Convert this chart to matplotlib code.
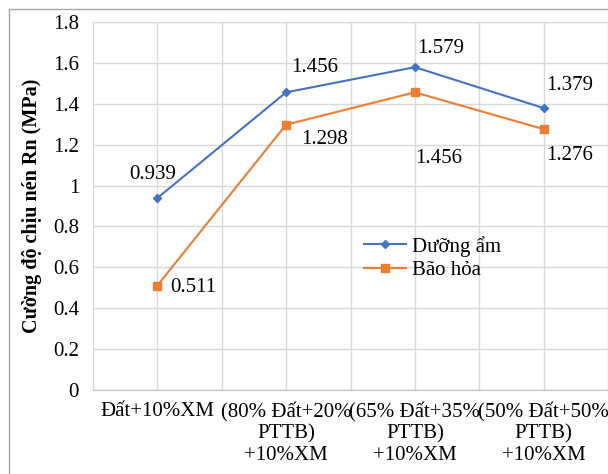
import matplotlib
matplotlib.use("Agg")
import matplotlib.pyplot as plt
from matplotlib.patches import Rectangle

categories = ["Đất+10%XM", "(80% Đất+20%\nPTTB)\n+10%XM",
              "(65% Đất+35%\nPTTB)\n+10%XM", "(50% Đất+50%\nPTTB)\n+10%XM"]
duong_am = [0.939, 1.456, 1.579, 1.379]
bao_hoa = [0.511, 1.298, 1.456, 1.276]
yticks = [0, 0.2, 0.4, 0.6, 0.8, 1, 1.2, 1.4, 1.6, 1.8]
ytick_labels = ["0", "0.2", "0.4", "0.6", "0.8", "1", "1.2", "1.4", "1.6", "1.8"]

# label offsets in pixels (dx, dy)
off_blue = [(-5, 24), (29, 25), (26, 19), (26, 23)]
off_orange = [(36, -2), (38, -15), (24, -66), (26, -26)]

plt.rcParams['font.family'] = ['Liberation Serif', 'DejaVu Serif']

fig = plt.figure(figsize=(6.08, 4.74), dpi=100)
ax = fig.add_axes([93/608, 1-390/474, 1-93/608, 368/474])

x = list(range(len(categories)))
ax.plot(x, duong_am, color='#4472C4', marker='D', markersize=4, lw=1.5, label='Dưỡng ẩm')
ax.plot(x, bao_hoa, color='#ED7D31', marker='s', markersize=6, lw=1.5, label='Bão hỏa')

for i in x:
    ax.annotate(f"{duong_am[i]:.3f}", (i, duong_am[i]), xytext=off_blue[i],
                textcoords='offset pixels', ha='center', va='center', fontsize=15)
    ax.annotate(f"{bao_hoa[i]:.3f}", (i, bao_hoa[i]), xytext=off_orange[i],
                textcoords='offset pixels', ha='center', va='center', fontsize=15)

ax.set_xlim(-0.5, 3.5)
ax.set_ylim(0, 1.8)
ax.set_yticks(yticks)
ax.set_yticklabels(ytick_labels, fontsize=15)
ax.set_xticks(x)
ax.set_xticklabels(categories, fontsize=15, linespacing=1.15)
ax.tick_params(length=0, pad=10)
ax.tick_params(axis='x', pad=9)

for v in [-0.5, 0, 0.5, 1, 1.5, 2, 2.5, 3, 3.5]:
    ax.axvline(v, color='#D9D9D9', lw=1, zorder=0)
for v in yticks:
    ax.axhline(v, color='#D9D9D9', lw=1, zorder=0)
for s in ax.spines.values():
    s.set_color('#D9D9D9')
ax.spines['bottom'].set_color('#BFBFBF')

ax.set_ylabel("Cường độ chịu nén Rn (MPa)", fontsize=14.5, fontweight='bold', labelpad=8)

ax.legend(loc='upper left', bbox_to_anchor=(0.49, 0.47), frameon=False, fontsize=15,
          handlelength=2.0, handletextpad=0.3, labelspacing=0.2)

fig.patches.append(Rectangle((9/608, -0.1), 1.0, 1-9/474+0.1, transform=fig.transFigure,
                             fill=False, edgecolor='#A6A6A6', lw=1))

fig.savefig("out.png", dpi=100)
